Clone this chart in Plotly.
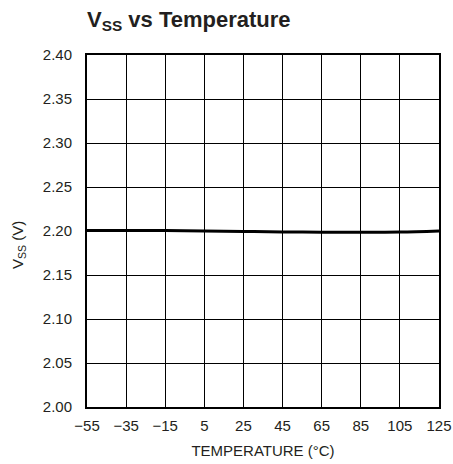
import plotly.graph_objects as go

temps = [-55, -35, -15, 5, 25, 45, 65, 85, 105, 125]
vss = [2.2005, 2.2007, 2.2005, 2.2000, 2.1995, 2.1990, 2.1986, 2.1985, 2.1988, 2.2000]
x_ticks = [-55, -35, -15, 5, 25, 45, 65, 85, 105, 125]
x_tick_text = ["\u221255", "\u221235", "\u221215", "5", "25", "45", "65", "85", "105", "125"]
y_ticks = [2.00, 2.05, 2.10, 2.15, 2.20, 2.25, 2.30, 2.35, 2.40]

FONT = "Liberation Sans, Arial, Helvetica, sans-serif"
TXT = "#231f20"
W, H = 453, 464
L, R, T, B = 87, 14, 55, 57

fig = go.Figure()
fig.add_trace(go.Scatter(x=temps, y=vss, mode="lines",
                         line=dict(color="black", width=3, shape="spline"),
                         showlegend=False, hoverinfo="skip"))

fig.update_layout(
    width=W, height=H,
    margin=dict(l=L, r=R, t=T, b=B),
    paper_bgcolor="white", plot_bgcolor="white",
    font=dict(family=FONT, color=TXT, size=15),
    title=dict(text="<b>V<sub>SS</sub> vs Temperature</b>",
               x=L / W, xanchor="left", y=1 - 19 / H, yanchor="middle",
               font=dict(family=FONT, size=22, color=TXT)),
    xaxis=dict(range=[-55, 125], tickvals=x_ticks, ticktext=x_tick_text,
               showgrid=True, gridcolor="black", gridwidth=1,
               showline=True, linecolor="black", linewidth=2, mirror=True,
               ticks="", ticklen=0, zeroline=False, ticklabelstandoff=4,
               automargin=False,
               title=dict(text="TEMPERATURE (\u00b0C)", standoff=12,
                          font=dict(family=FONT, size=15, color=TXT)),
               tickfont=dict(family=FONT, size=15, color=TXT)),
    yaxis=dict(range=[2.00, 2.40], tickvals=y_ticks, tickformat=".2f",
               showgrid=True, gridcolor="black", gridwidth=1,
               showline=True, linecolor="black", linewidth=2, mirror=True,
               ticks="", ticklen=0, zeroline=False, ticklabelstandoff=10,
               automargin=False,
               tickfont=dict(family=FONT, size=15, color=TXT)),
    annotations=[dict(text="V<sub>SS</sub> (V)", textangle=-90,
                      xref="paper", yref="paper",
                      x=-(L - 18) / (W - L - R), y=1 - (245 - T) / (H - T - B),
                      xanchor="center", yanchor="middle", showarrow=False,
                      font=dict(family=FONT, size=15, color=TXT))],
)

fig.write_html("out.html", config={"displayModeBar": False},
               post_script="document.body.style.margin='0';")
